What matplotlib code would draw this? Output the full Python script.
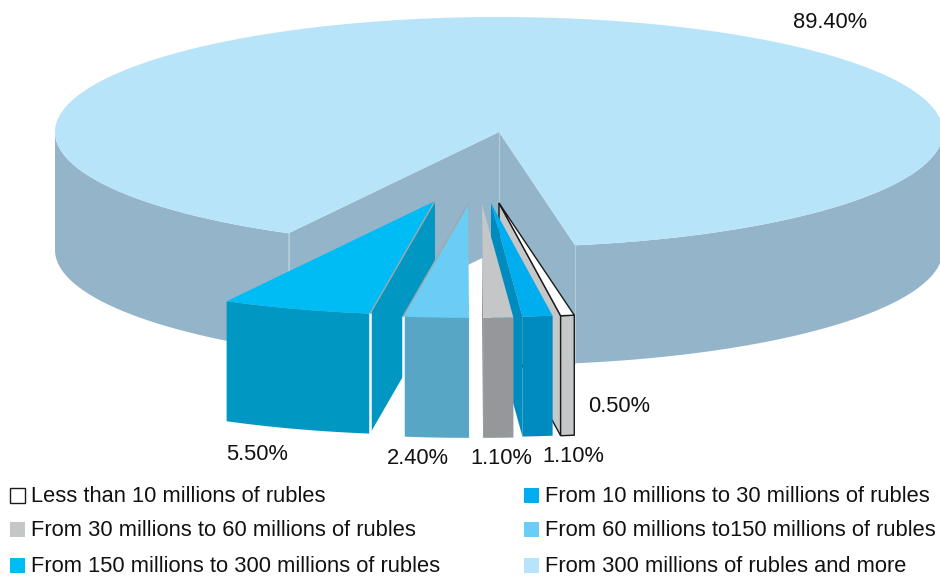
import numpy as np
import matplotlib
matplotlib.use("Agg")
import matplotlib.pyplot as plt
from matplotlib.patches import Polygon, Rectangle

# Share of each bracket, in percent, in drawing order around the pie
shares = [5.5, 2.4, 1.1, 1.1, 0.5, 89.4]
share_labels = ["5.50%", "2.40%", "1.10%", "1.10%", "0.50%", "89.40%"]
top_colors = ["#00bcf4", "#6bcdf6", "#c4c6c8", "#00adee", "#ffffff", "#b8e4fa"]
side_colors = ["#0098c3", "#58a6c6", "#96979b", "#008bbf", "#c5c7c9", "#94b5c9"]

legend_labels = [
    "Less than 10 millions of rubles",
    "From 10 millions to 30 millions of rubles",
    "From 30 millions to 60 millions of rubles",
    "From 60 millions to150 millions of rubles",
    "From 150 millions to 300 millions of rubles",
    "From 300 millions of rubles and more",
]
legend_colors = ["#ffffff", "#00adee", "#c4c6c8", "#6bcdf6", "#00bcf4", "#b8e4fa"]

# Layout of the tilted pie
CX, CY, RX, RY = 499, 132, 444, 115
DEPTH, WEDGE_DEPTH = 118, 120
WEDGE_RX, WEDGE_RY = 0.99, 0.99
START = 241.7
apex_offsets = [(-64, 69), (-31, 72), (-17, 72), (-8, 71), (0, 71), (0, 0)]
label_xy = [(257, 455), (418, 458), (501, 458), (573, 456), (619, 406), (830, 22)]
FONT = "Liberation Sans"
FS = 15.78
INK = "#111111"

fig = plt.figure(figsize=(9.4, 5.77), dpi=100)
ax = fig.add_axes([0, 0, 1, 1])
ax.set_xlim(0, 940)
ax.set_ylim(577, 0)
ax.axis("off")


def rim(t0, t1, off=(0, 0), drop=0, n=None, kx=1.0, ky=1.0):
    n = n or max(2, int(abs(t1 - t0) / 1.2) + 2)
    t = np.radians(np.linspace(t0, t1, n))
    return np.column_stack([CX + off[0] + kx * RX * np.cos(t),
                            CY + off[1] + drop - ky * RY * np.sin(t)])


def fill(points, color, z, edge="none", lw=0):
    ax.add_patch(Polygon(points, closed=True, facecolor=color, edgecolor=edge,
                         linewidth=lw, zorder=z, joinstyle="miter"))


angles = START + np.concatenate([[0], np.cumsum(shares)]) * 3.6

# Large remaining slice, undisplaced
t0, t1 = angles[5], angles[6]
side = side_colors[5]
centre = np.array([[CX, CY]])
centre_low = np.array([[CX, CY + DEPTH]])
for a, b in ((180, angles[0]), (t0, 360)):
    fill(np.vstack([rim(a, b), rim(a, b, drop=DEPTH)[::-1]]), side, 1)
for t in (angles[0], t0):
    edge_top = rim(t, t, n=2)[:1]
    edge_low = rim(t, t, drop=DEPTH, n=2)[:1]
    fill(np.vstack([centre, edge_top, edge_low, centre_low]), side, 2)
    ax.plot([edge_top[0, 0]] * 2, [edge_top[0, 1], edge_low[0, 1]],
            color="#b3ccda", lw=0.8, zorder=2.5)
ax.plot([CX, CX], [CY, CY + DEPTH], color="#b3ccda", lw=0.8, zorder=2.5)
fill(np.vstack([centre, rim(t0, t1)]), top_colors[5], 3)


def wedge(i, z, outline=False):
    a, b = angles[i], angles[i + 1]
    off = apex_offsets[i]
    shape = {"kx": WEDGE_RX, "ky": WEDGE_RY}
    apex = np.array([[CX + off[0], CY + off[1]]])
    apex_low = apex + [0, WEDGE_DEPTH]
    edge = "#1a1a1a" if outline else "none"
    lw = 1.0 if outline else 0
    # cut face that turns towards the viewer
    cut = b if rim(b, b, off, n=2, **shape)[0, 0] < apex[0, 0] else a
    p = rim(cut, cut, off, n=2, **shape)[:1]
    q = rim(cut, cut, off, WEDGE_DEPTH, n=2, **shape)[:1]
    if abs(p[0, 0] - apex[0, 0]) > 1:
        fill(np.vstack([apex, p, q, apex_low]), side_colors[i], z, edge, lw)
        if not outline and p[0, 0] < apex[0, 0]:
            ax.plot([p[0, 0]] * 2, [p[0, 1], q[0, 1]], color="white", lw=1.8, zorder=z + 0.3)
            ax.plot([apex[0, 0], p[0, 0]], [apex[0, 1], p[0, 1]], color="#a0a8ae", lw=1.0, zorder=z + 0.3)
    upper = rim(a, b, off, **shape)
    lower = rim(a, b, off, WEDGE_DEPTH, **shape)
    fill(np.vstack([upper, lower[::-1]]), side_colors[i], z + 0.1, edge, lw)
    fill(np.vstack([apex, upper]), top_colors[i], z + 0.2, edge, lw)


wedge(0, 4)
wedge(1, 5)
wedge(4, 6, outline=True)
wedge(3, 7)
wedge(2, 8)

for (x, y), text in zip(label_xy, share_labels):
    ax.text(x, y, text, ha="center", va="center", family=FONT, fontsize=FS,
            color=INK, zorder=10)

# Two-column key below the pie
rows = [(488, 502), (522, 536), (558, 572)]
cols = [(10, 31), (524, 545)]
for i, (label, color) in enumerate(zip(legend_labels, legend_colors)):
    (box_x, text_x) = cols[i % 2]
    (box_y, base) = rows[i // 2]
    outlined = color == "#ffffff"
    ax.add_patch(Rectangle((box_x, box_y), 15, 15, facecolor=color,
                           edgecolor="#1a1a1a" if outlined else "none",
                           linewidth=1.0 if outlined else 0, zorder=10))
    ax.text(text_x, base, label, ha="left", va="baseline", family=FONT,
            fontsize=FS, color=INK, zorder=10)

fig.savefig("out.png", dpi=100)
